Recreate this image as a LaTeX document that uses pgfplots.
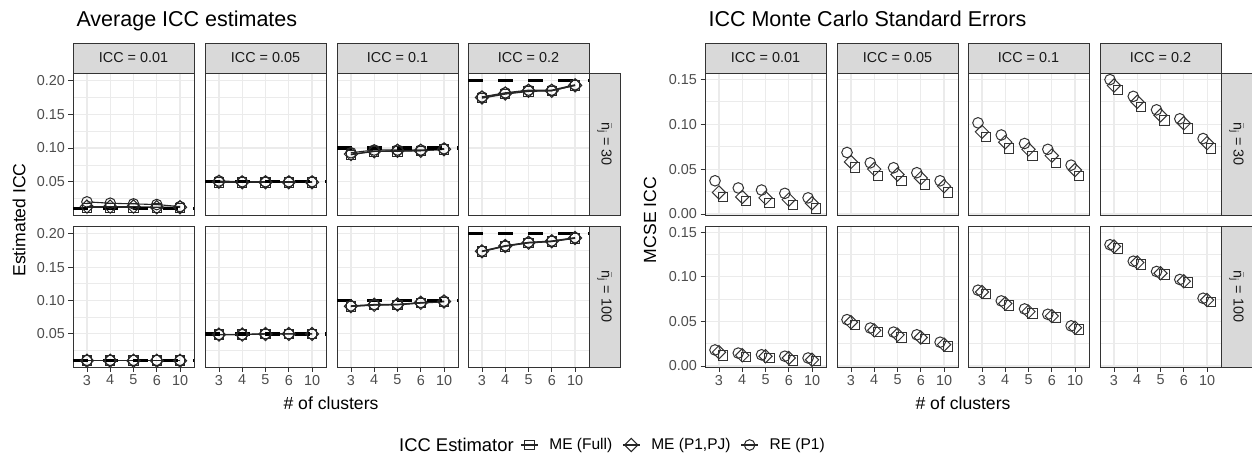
\documentclass[border=0pt]{standalone}
\usepackage{pgfplots}
\pgfplotsset{compat=1.18}
\usepackage{pgfplotstable}
\usepackage{fontspec}
\setmainfont{Liberation Sans}
\definecolor{gridc}{HTML}{EBEBEB}
\definecolor{g20}{HTML}{333333}
\definecolor{g30}{HTML}{4D4D4D}
\definecolor{g10}{HTML}{1A1A1A}
\definecolor{stripc}{HTML}{D9D9D9}

% Average ICC estimates, n = 30
\pgfplotstableread{
x reA pjA fuA reB pjB fuB reC pjC fuC reD pjD fuD
1 0.020 0.013 0.011 0.051 0.050 0.049 0.093 0.091 0.090 0.176 0.175 0.174
2 0.018 0.013 0.011 0.050 0.049 0.049 0.097 0.095 0.095 0.182 0.181 0.180
3 0.017 0.013 0.011 0.050 0.049 0.049 0.097 0.096 0.095 0.186 0.185 0.184
4 0.016 0.012 0.011 0.050 0.049 0.049 0.097 0.096 0.096 0.186 0.185 0.185
5 0.013 0.012 0.011 0.050 0.049 0.049 0.099 0.098 0.098 0.194 0.193 0.193
}\avgA
% Average ICC estimates, n = 100
\pgfplotstableread{
x reA pjA fuA reB pjB fuB reC pjC fuC reD pjD fuD
1 0.0105 0.010 0.010 0.049 0.049 0.049 0.092 0.0915 0.091 0.174 0.1735 0.173
2 0.0105 0.010 0.010 0.049 0.049 0.049 0.094 0.0935 0.093 0.182 0.1815 0.181
3 0.0105 0.010 0.010 0.050 0.050 0.050 0.094 0.094 0.0935 0.187 0.1865 0.186
4 0.0105 0.010 0.010 0.050 0.050 0.050 0.097 0.0965 0.096 0.189 0.1885 0.188
5 0.0105 0.010 0.010 0.050 0.050 0.050 0.099 0.0985 0.098 0.194 0.1935 0.193
}\avgB
% MCSE, n = 30
\pgfplotstableread{
x reA pjA fuA reB pjB fuB reC pjC fuC reD pjD fuD
1 0.037 0.024 0.019 0.0685 0.058 0.052 0.1015 0.0915 0.086 0.1496 0.143 0.138
2 0.029 0.019 0.0144 0.057 0.050 0.042 0.088 0.080 0.073 0.131 0.125 0.119
3 0.0267 0.018 0.012 0.0515 0.044 0.037 0.0785 0.072 0.0645 0.116 0.110 0.104
4 0.023 0.016 0.010 0.046 0.040 0.033 0.072 0.065 0.057 0.106 0.101 0.095
5 0.018 0.012 0.0063 0.037 0.031 0.024 0.0544 0.049 0.042 0.084 0.079 0.073
}\mcA
% MCSE, n = 100
\pgfplotstableread{
x reA pjA fuA reB pjB fuB reC pjC fuC reD pjD fuD
1 0.018 0.0155 0.012 0.052 0.049 0.046 0.085 0.083 0.081 0.136 0.134 0.1316
2 0.0145 0.012 0.010 0.0426 0.040 0.038 0.073 0.070 0.068 0.1175 0.116 0.114
3 0.0126 0.011 0.009 0.038 0.035 0.032 0.064 0.061 0.059 0.106 0.104 0.1026
4 0.011 0.009 0.0063 0.035 0.032 0.030 0.058 0.056 0.0545 0.097 0.095 0.0935
5 0.009 0.007 0.0055 0.0267 0.024 0.022 0.045 0.043 0.041 0.076 0.074 0.072
}\mcB

\pgfplotsset{
  facet/.style={
    scale only axis, width=121pt, height=142pt,
    anchor=north west,
    xmin=0.4, xmax=5.6,
    xtick={1,2,3,4,5}, xticklabels={3,4,5,6,10},
    xmajorgrids, ymajorgrids, yminorgrids,
    major grid style={gridc, line width=1.1pt},
    minor grid style={gridc, line width=0.55pt},
    axis line style={g20, line width=0.9pt},
    tick align=outside, tick pos=left,
    major tick length=4.5pt, minor tick length=0pt,
    tick style={g20, line width=0.9pt},
    ticklabel style={font=\fontsize{14.4}{17}\selectfont, text=g30},
    clip=true,
  },
  nox/.style={xticklabels={}, xtick style={draw=none}},
  noy/.style={yticklabels={}, ytick style={draw=none}},
  avgy/.style={ymin=0.0005, ymax=0.2114, ytick={0.05,0.1,0.15,0.2},
    yticklabels={0.05,0.10,0.15,0.20}, minor ytick={0.025,0.075,0.125,0.175}},
  mcy/.style={ymin=-0.0011, ymax=0.157, ytick={0,0.05,0.1,0.15},
    yticklabels={0.00,0.05,0.10,0.15}, minor ytick={0.025,0.075,0.125}},
  mfull/.style={mark=square, mark size=4.7pt, mark options={solid, line width=1pt}},
  mpj/.style={mark=square, mark size=4.7pt, mark options={solid, line width=1pt, rotate=45}},
  mre/.style={mark=o, mark size=5.3pt, mark options={solid, line width=1pt}},
  avgline/.style={black!85, line width=1.1pt, forget plot},
  mcpt/.style={black!80, only marks, forget plot},
  truth/.style={black, line width=3.6pt, dash pattern=on 15pt off 15pt, no marks, forget plot},
  legline/.style={black!85, line width=1.1pt},
  legend image code/.code={\draw[mark repeat=2,mark phase=2,#1] plot coordinates {(0pt,0pt) (8.5pt,0pt) (17pt,0pt)};},
}

\newcommand\avgfacet[6]{%
\begin{axis}[facet, avgy, at={(#1pt,-#2pt)}, #6]
\addplot[avgline, mfull] table[x=x,y=fu#4]{#3};
\addplot[avgline, mpj] table[x=x,y=pj#4]{#3};
\addplot[avgline, mre] table[x=x,y=re#4]{#3};
\addplot[truth] coordinates {(0.4,#5) (5.6,#5)};
\end{axis}}

\newcommand\mcfacet[5]{%
\begin{axis}[facet, mcy, at={(#1pt,-#2pt)}, #5]
\addplot[mcpt, mre] table[x expr=\thisrow{x}-0.17,y=re#4]{#3};
\addplot[mcpt, mpj] table[x=x,y=pj#4]{#3};
\addplot[mcpt, mfull] table[x expr=\thisrow{x}+0.17,y=fu#4]{#3};
\end{axis}}

\newcommand\topstrip[2]{%
\draw[fill=stripc, draw=g20, line width=0.9pt] (#1pt,-43pt) rectangle ++(121pt,-30pt);
\node[text=g10, font=\fontsize{14.4}{17}\selectfont] at (#1pt+60.5pt,-58pt) {#2};}

\newcommand\sidestrip[4]{%
\draw[fill=stripc, draw=g20, line width=0.9pt] (#1pt,-#2pt) rectangle (#1pt+31pt,-#3pt);
\node[text=g10, font=\fontsize{14.4}{17}\selectfont, rotate=-90] at (#1pt+15.5pt,-#2pt/2-#3pt/2) {$\bar{\mbox{n}}_{\mbox{\fontsize{10}{10}\selectfont j}}$ = #4};}

\begin{document}
\begin{tikzpicture}
\useasboundingbox (0,0) rectangle (1252pt,-455pt);

% titles
\node[anchor=base west, font=\fontsize{21.5}{25}\selectfont] at (73pt,-27pt) {Average ICC estimates};
\node[anchor=base west, font=\fontsize{21.5}{25}\selectfont] at (705pt,-27pt) {ICC Monte Carlo Standard Errors};

% left chart
\avgfacet{73}{73}{\avgA}{A}{0.01}{nox}
\avgfacet{205}{73}{\avgA}{B}{0.05}{nox,noy}
\avgfacet{337}{73}{\avgA}{C}{0.1}{nox,noy}
\avgfacet{468}{73}{\avgA}{D}{0.2}{nox,noy}
\avgfacet{73}{226}{\avgB}{A}{0.01}{height=141pt}
\avgfacet{205}{226}{\avgB}{B}{0.05}{noy,height=141pt}
\avgfacet{337}{226}{\avgB}{C}{0.1}{noy,height=141pt}
\avgfacet{468}{226}{\avgB}{D}{0.2}{noy,height=141pt}

% right chart
\mcfacet{705}{73}{\mcA}{A}{nox}
\mcfacet{837}{73}{\mcA}{B}{nox,noy}
\mcfacet{968}{73}{\mcA}{C}{nox,noy}
\mcfacet{1100}{73}{\mcA}{D}{nox,noy}
\mcfacet{705}{226}{\mcB}{A}{height=141pt}
\mcfacet{837}{226}{\mcB}{B}{noy,height=141pt}
\mcfacet{968}{226}{\mcB}{C}{noy,height=141pt}
\begin{axis}[facet, mcy, at={(1100pt,-226pt)}, noy, height=141pt,
  legend columns=-1,
  legend style={draw=none, fill=none, at={(axis description cs:-4.793,-0.553)}, anchor=west,
    font=\fontsize{15.5}{18}\selectfont, inner xsep=0pt,
    /tikz/every odd column/.append style={column sep=9pt},
    /tikz/every even column/.append style={column sep=8pt}}]
\addplot[mcpt, mre] table[x expr=\thisrow{x}-0.17,y=reD]{\mcB};
\addplot[mcpt, mpj] table[x=x,y=pjD]{\mcB};
\addplot[mcpt, mfull] table[x expr=\thisrow{x}+0.17,y=fuD]{\mcB};
\addlegendimage{legline, mfull}\addlegendentry{ME (Full)}
\addlegendimage{legline, mpj}\addlegendentry{ME (P1,PJ)}
\addlegendimage{legline, mre}\addlegendentry{RE (P1)}
\end{axis}

% strips
\topstrip{73}{ICC = 0.01}
\topstrip{205}{ICC = 0.05}
\topstrip{337}{ICC = 0.1}
\topstrip{468}{ICC = 0.2}
\topstrip{705}{ICC = 0.01}
\topstrip{837}{ICC = 0.05}
\topstrip{968}{ICC = 0.1}
\topstrip{1100}{ICC = 0.2}
\sidestrip{589}{73}{215}{30}
\sidestrip{589}{226}{367}{100}
\sidestrip{1221}{73}{215}{30}
\sidestrip{1221}{226}{367}{100}

% axis titles
\node[rotate=90, font=\fontsize{17.6}{20}\selectfont] at (19pt,-220pt) {Estimated ICC};
\node[rotate=90, font=\fontsize{17.6}{20}\selectfont] at (650pt,-220pt) {MCSE ICC};
\node[font=\fontsize{17.6}{20}\selectfont] at (331pt,-403pt) {\# of clusters};
\node[font=\fontsize{17.6}{20}\selectfont] at (963pt,-403pt) {\# of clusters};

% legend title
\node[anchor=west, font=\fontsize{18.4}{21}\selectfont, inner sep=0pt] at (399pt,-445pt) {ICC Estimator};
\end{tikzpicture}
\end{document}
